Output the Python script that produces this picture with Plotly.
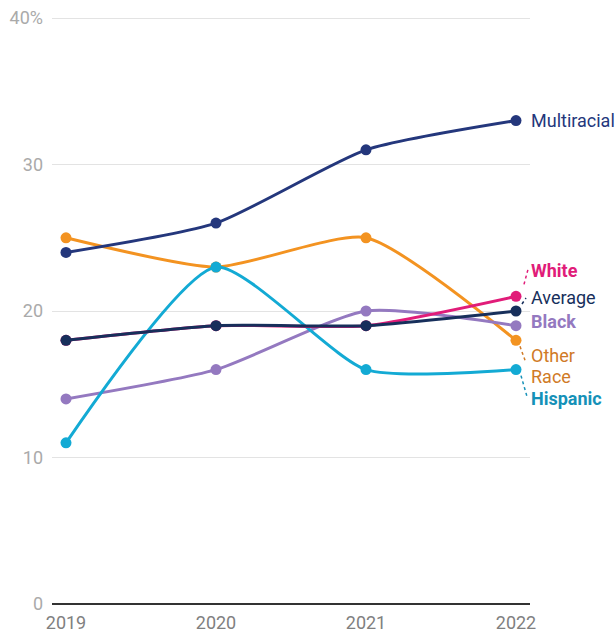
import plotly.graph_objects as go

years = [2019, 2020, 2021, 2022]
multiracial = [24, 26, 31, 33]
other_race = [25, 23, 25, 18]
hispanic = [11, 23, 16, 16]
black = [14, 16, 20, 19]
white = [18, 19, 19, 21]
average = [18, 19, 19, 20]

y_tickvals = [0, 10, 20, 30, 40]
y_ticktext = ["0", "10", "20", "30", "40%"]

series = [
    ("Other Race", other_race, "#f39321"),
    ("Black", black, "#9479c0"),
    ("Hispanic", hispanic, "#13aad4"),
    ("White", white, "#e11c79"),
    ("Average", average, "#172f5b"),
    ("Multiracial", multiracial, "#24377c"),
]

fig = go.Figure()
for name, vals, col in series:
    fig.add_trace(go.Scatter(
        x=years, y=vals, mode="lines+markers", name=name,
        line=dict(color=col, width=3, shape="spline", smoothing=0.6),
        marker=dict(color=col, size=11),
        hoverinfo="x+y+name",
    ))

FONT = "Roboto"
# (text, label y in data units, colour, leader offsets in px from the 2022 point, 2022 value)
labels = [
    ("Multiracial", 33.0, "#24377c", None, 33),
    ("<b>White</b>", 22.75, "#e11c79", (8, 12, 12, 27), 21),
    ("Average", 20.95, "#172f5b", (6, 7, 10, 13), 20),
    ("<b>Black</b>", 19.3, "#9479c0", None, 19),
    ("Other", 16.95, "#d07a26", (4, -6, 9, -20), 18),
    ("Race", 15.5, "#d07a26", None, 18),
    ("<b>Hispanic</b>", 14.05, "#1591b8", (5, -6, 11, -27), 16),
]
for text, ypos, col, leader, pv in labels:
    fig.add_annotation(
        x=2022, y=ypos, xref="x", yref="y", text=text, showarrow=False,
        xanchor="left", yanchor="middle", xshift=13, align="left",
        font=dict(family=FONT, size=18, color=col),
    )
    if leader:
        x0, y0, x1, y1 = leader
        fig.add_shape(
            type="line", xref="x", yref="y", xsizemode="pixel", ysizemode="pixel",
            xanchor=2022, yanchor=pv, x0=x0, y0=y0, x1=x1, y1=y1,
            line=dict(color=col, width=1.5, dash="dot"), layer="above",
        )

fig.update_layout(
    width=616, height=633,
    margin=dict(l=52, r=86, t=17, b=29),
    paper_bgcolor="white", plot_bgcolor="white",
    showlegend=False,
    font=dict(family=FONT),
    xaxis=dict(
        range=[2019 - 14 / 150, 2022 + 14 / 150],
        tickvals=years, ticktext=[str(y) for y in years],
        showgrid=False, zeroline=False, showline=False,
        tickfont=dict(family=FONT, size=18, color="#808080"),
        ticks="", ticklabelstandoff=6, automargin=False,
    ),
    yaxis=dict(
        range=[0, 40.07], tickvals=y_tickvals, ticktext=y_ticktext,
        showgrid=True, gridcolor="#e3e3e3", gridwidth=1,
        zeroline=True, zerolinecolor="#333333", zerolinewidth=2,
        tickfont=dict(family=FONT, size=18, color="#aaaaaa"),
        ticks="", ticklabelstandoff=8, automargin=False,
    ),
)

fig.write_html("out.html")
